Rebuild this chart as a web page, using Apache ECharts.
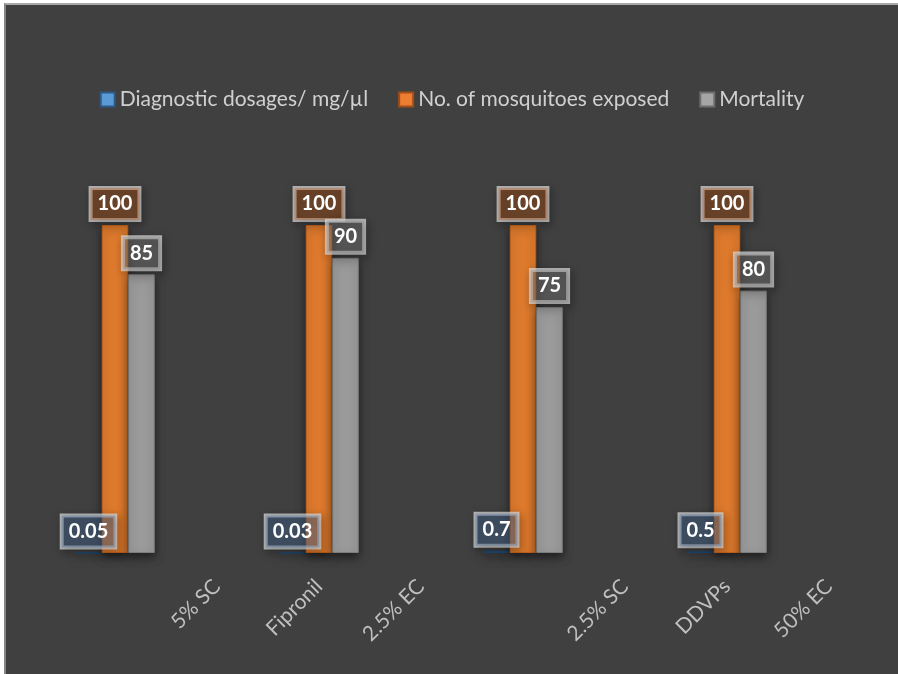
<!DOCTYPE html>
<html>
<head>
<meta charset="utf-8">
<script src="https://cdn.jsdelivr.net/npm/echarts@6/dist/echarts.min.js"></script>
<style>
  html, body { margin: 0; padding: 0; background: #ffffff; width: 898px; height: 674px; overflow: hidden; }
  #wrap { position: absolute; left: 4px; top: 3px; width: 894px; height: 671px;
          border-top: 2px solid #a9a9a9; border-left: 2px solid #858585; box-sizing: border-box; background: #404040; }
  #chart { position: absolute; left: 0; top: 0; width: 892px; height: 669px; }
</style>
</head>
<body>
<div id="wrap"><div id="chart"></div></div>
<script>
// ---- data ----
const categories = ['Fipronil 5% SC', 'Fipronil 2.5% EC', 'DDVPs 2.5% SC', 'DDVPs 50% EC'];
const seriesNames = ['Diagnostic dosages/ mg/µl', 'No. of mosquitoes exposed', 'Mortality'];
const dosages = [0.05, 0.03, 0.7, 0.5];
const exposed = [100, 100, 100, 100];
const mortality = [85, 90, 75, 80];
// tick labels placed at half-category steps (0..8)
const tickLabels = ['', '', '5% SC', 'Fipronil', '2.5% EC', '', '2.5% SC', 'DDVPs', '50% EC'];

const barColors = ['#245a8c', '#de7a2d', '#9b9b9b'];
const barEdges = ['#1d4a74', '#c2611d', '#7d7d7d'];
const legendColors = ['#5b9bd5', '#ed7d31', '#a5a5a5'];
const legendEdges = ['#2c5a86', '#a14d17', '#6e6e6e'];
const labelBg = ['rgba(75,115,165,0.38)', 'rgba(197,90,17,0.35)', 'rgba(144,144,144,0.35)'];

const chart = echarts.init(document.getElementById('chart'), null, { renderer: 'canvas' });

function mkSeries(i, data) {
  return {
    name: seriesNames[i],
    type: 'bar',
    data: data,
    barWidth: 26.5,
    barGap: '0%',
    itemStyle: {
      color: barColors[i],
      borderColor: barEdges[i],
      borderWidth: 1,
      shadowBlur: 10,
      shadowColor: 'rgba(0,0,0,0.55)',
      shadowOffsetY: 4
    },
    label: {
      show: true,
      position: 'top',
      distance: 5,
      color: '#ffffff',
      fontFamily: 'Lato',
      fontWeight: 'bold',
      fontSize: 20,
      lineHeight: 20,
      padding: [6, 7, 6, 7],
      backgroundColor: labelBg[i],
      borderColor: 'rgba(215,215,215,0.75)',
      borderWidth: 2,
      shadowBlur: 8,
      shadowColor: 'rgba(0,0,0,0.45)',
      shadowOffsetX: 2,
      shadowOffsetY: 3
    },
    emphasis: { disabled: true }
  };
}

chart.setOption({
  backgroundColor: '#404040',
  animation: false,
  legend: {
    left: 'center',
    top: 79,
    itemWidth: 14,
    itemHeight: 14,
    itemGap: 30,
    textStyle: { color: '#d0d0d0', fontFamily: 'Lato', fontSize: 21 },
    data: seriesNames.map((n, i) => ({
      name: n,
      icon: 'rect',
      itemStyle: { color: legendColors[i], borderColor: legendEdges[i], borderWidth: 2 }
    }))
  },
  grid: { left: 7, width: 816, top: 154.4, height: 393.6 },
  xAxis: [
    {
      type: 'category',
      data: categories,
      axisLine: { show: false },
      axisTick: { show: false },
      axisLabel: { show: false },
      splitLine: { show: false }
    },
    {
      type: 'value',
      position: 'bottom',
      min: 0,
      max: 8,
      interval: 1,
      axisLine: { show: false },
      axisTick: { show: false },
      splitLine: { show: false },
      axisLabel: {
        show: true,
        rotate: 45,
        margin: 30,
        showMinLabel: true,
        showMaxLabel: true,
        color: '#bfbfbf',
        fontFamily: 'Lato',
        fontSize: 21,
        formatter: v => tickLabels[Math.round(v)] || ''
      }
    }
  ],
  yAxis: {
    type: 'value',
    min: 0,
    max: 120,
    show: false,
    splitLine: { show: false }
  },
  series: [mkSeries(0, dosages), mkSeries(1, exposed), mkSeries(2, mortality)]
});
</script>
</body>
</html>
